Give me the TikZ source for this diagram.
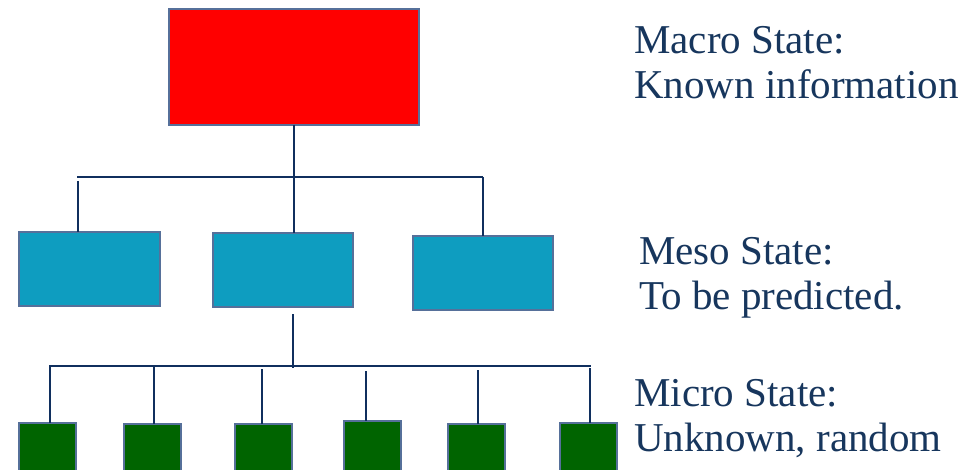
\documentclass[tikz,border=0pt]{standalone}
\usepackage{fontspec}
\setmainfont{Liberation Serif}
\definecolor{boxred}{HTML}{FF0000}
\definecolor{boxcyan}{HTML}{0E9DC0}
\definecolor{boxgreen}{HTML}{006400}
\definecolor{boxedge}{HTML}{56709A}
\definecolor{wire}{HTML}{102F5E}
\definecolor{labelnavy}{HTML}{17365D}
\begin{document}
\begin{tikzpicture}[x=1pt,y=-1pt,
  statebox/.style={draw=boxedge, line width=2pt, anchor=north west, inner sep=0pt, outer sep=0pt},
  mesobox/.style={statebox, fill=boxcyan, minimum height=74pt},
  microbox/.style={statebox, fill=boxgreen, minimum width=57pt, minimum height=80pt},
  wireline/.style={draw=wire, line width=2.2pt},
  statelabel/.style={anchor=base west, inner sep=0pt, align=left, text=labelnavy, font=\fontsize{41}{45}\selectfont}]
\clip (0,0) rectangle (973,470);
\useasboundingbox (0,0) rectangle (973,470);
% boxes
\node[statebox, fill=boxred, minimum width=250pt, minimum height=116pt] (macro) at (169,9) {};
\node[mesobox, minimum width=141pt] (meso1) at (19,232) {};
\node[mesobox, minimum width=140pt] (meso2) at (213,233) {};
\node[mesobox, minimum width=140pt] (meso3) at (413,236) {};
\node[microbox] (micro1) at (19,423) {};
\node[microbox] (micro2) at (124,424) {};
\node[microbox] (micro3) at (235,424) {};
\node[microbox] (micro4) at (344,421) {};
\node[microbox] (micro5) at (448,424) {};
\node[microbox] (micro6) at (560,423) {};
% upper connectors
\coordinate (tbL) at (77,177);
\coordinate (tbM) at (293,177);
\coordinate (tbR) at (483,177);
\draw[wireline] (macro.south) -- (macro.south |- tbM);
\draw[wireline] (tbL) -- (tbR);
\coordinate (d1) at (78,181);
\draw[wireline] (d1) -- (d1 |- meso1.north);
\draw[wireline] (macro.south |- tbM) -- (macro.south |- meso2.north);
\draw[wireline] (tbR) -- (tbR |- meso3.north);
% lower connectors
\coordinate (lmTop) at (293,314);
\coordinate (lbL) at (49,366);
\coordinate (lbR) at (591,366);
\draw[wireline] (lmTop) -- (293,368);
\draw[wireline] (lbL) -- (lbR);
\foreach \x/\s/\i in {50/366/1, 154/366/2, 262/369/3, 366/371/4, 478/370/5, 590/368/6} {
  \coordinate (md\i) at (\x,\s);
  \draw[wireline] (md\i) -- (md\i |- micro\i.north);
}
% labels (base anchor = baseline of the last line)
\node[statelabel] (macrolbl) at (634,99) {Macro State:\\Known information};
\node[statelabel] (mesolbl) at (639,309) {Meso State:\\To be predicted.};
\node[statelabel] (microlbl) at (634,451) {Micro State:\\Unknown, random};
\end{tikzpicture}
\end{document}
